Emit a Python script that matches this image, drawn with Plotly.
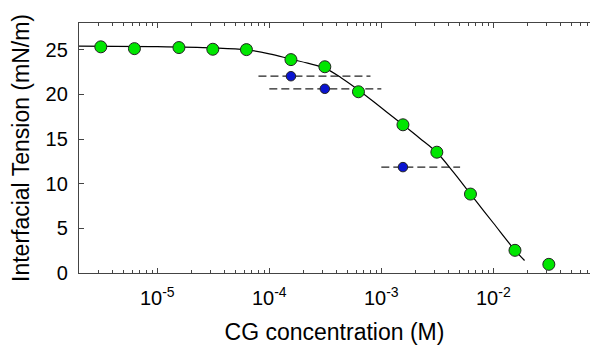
import plotly.graph_objects as go

# Green: interfacial tension data
green_x = [3.13e-6, 6.25e-6, 1.56e-5, 3.13e-5, 6.25e-5, 1.56e-4, 3.13e-4,
           6.25e-4, 1.56e-3, 3.13e-3, 6.25e-3, 1.56e-2, 3.13e-2]
green_y = [25.33, 25.13, 25.25, 25.06, 25.02, 23.9, 23.1,
           20.3, 16.6, 13.53, 8.84, 2.54, 0.97]

# Blue points with horizontal dashed ranges
blue_x = [1.56e-4, 3.13e-4, 1.56e-3]
blue_y = [22.04, 20.63, 11.86]
blue_xlo = [8.0e-5, 1.0e-4, 1.0e-3]
blue_xhi = [8.0e-4, 1.0e-3, 5.05e-3]

# Fitted curve
curve_x = [2.0e-6, 1.0e-5, 3.13e-5, 6.25e-5, 1.0e-4, 1.56e-4, 2.2e-4, 3.13e-4,
           4.4e-4, 6.25e-4, 1.0e-3, 1.56e-3, 2.2e-3, 3.13e-3, 4.4e-3,
           6.25e-3, 1.0e-2, 1.56e-2, 1.9e-2]
curve_y = [25.42, 25.36, 25.22, 25.0, 24.55, 23.95, 23.5, 22.95,
           21.85, 20.5, 18.5, 16.6, 15.1, 13.5, 11.3,
           8.85, 5.6, 2.55, 1.4]

major_ticks = [1e-5, 1e-4, 1e-3, 1e-2]
major_text = ["10<sup>-5</sup>", "10<sup>-4</sup>", "10<sup>-3</sup>", "10<sup>-2</sup>"]
minor_ticks = [m * 10.0 ** e for e in range(-6, -1) for m in range(2, 10)]
y_ticks = [0, 5, 10, 15, 20, 25]

AX = "#444444"
FONT = "Liberation Sans, Arial, sans-serif"

fig = go.Figure()

for lo, hi, yv in zip(blue_xlo, blue_xhi, blue_y):
    fig.add_trace(go.Scatter(x=[lo, hi], y=[yv, yv], mode="lines",
                             line=dict(color="#222222", width=1.2, dash="8px,4px"),
                             showlegend=False, hoverinfo="skip"))

fig.add_trace(go.Scatter(x=curve_x, y=curve_y, mode="lines",
                         line=dict(color="black", width=1.2, shape="spline", smoothing=1.0),
                         showlegend=False))

fig.add_trace(go.Scatter(x=green_x, y=green_y, mode="markers",
                         marker=dict(color="#00e600", size=12,
                                     line=dict(color="#222222", width=1)),
                         showlegend=False))

fig.add_trace(go.Scatter(x=blue_x, y=blue_y, mode="markers",
                         marker=dict(color="#0a14d0", size=9.5,
                                     line=dict(color="#222222", width=1)),
                         showlegend=False))

fig.update_layout(
    width=590, height=345,
    margin=dict(l=79, r=0, t=23, b=72),
    paper_bgcolor="white", plot_bgcolor="white",
    font=dict(family=FONT, color="black"),
)

fig.update_xaxes(
    type="log", range=[-5.699, -1.137], automargin=False,
    tickmode="array", tickvals=major_ticks, ticktext=major_text,
    ticks="inside", ticklen=5, tickwidth=1, tickcolor=AX,
    showline=True, linecolor=AX, linewidth=1.3, mirror="ticks",
    showgrid=False, zeroline=False,
    tickfont=dict(size=20, family=FONT),
    ticklabelstandoff=7,
    minor=dict(tickmode="array", tickvals=minor_ticks, ticks="inside",
               ticklen=3, tickwidth=1, tickcolor=AX, showgrid=False),
    title=dict(text="CG concentration (M)", font=dict(size=23, family=FONT), standoff=16),
)

fig.update_yaxes(
    range=[0, 28], automargin=False,
    tickmode="array", tickvals=y_ticks,
    ticks="inside", ticklen=5, tickwidth=1, tickcolor=AX,
    showline=True, linecolor=AX, linewidth=1.3, mirror=False,
    showgrid=False, zeroline=False,
    tickfont=dict(size=20, family=FONT),
    ticklabelstandoff=6,
    title=dict(text="Interfacial Tension (mN/m)", font=dict(size=23, family=FONT), standoff=9),
)

fig.write_html("out.html", config={"displayModeBar": False},
               post_script="document.body.style.margin='0';")
